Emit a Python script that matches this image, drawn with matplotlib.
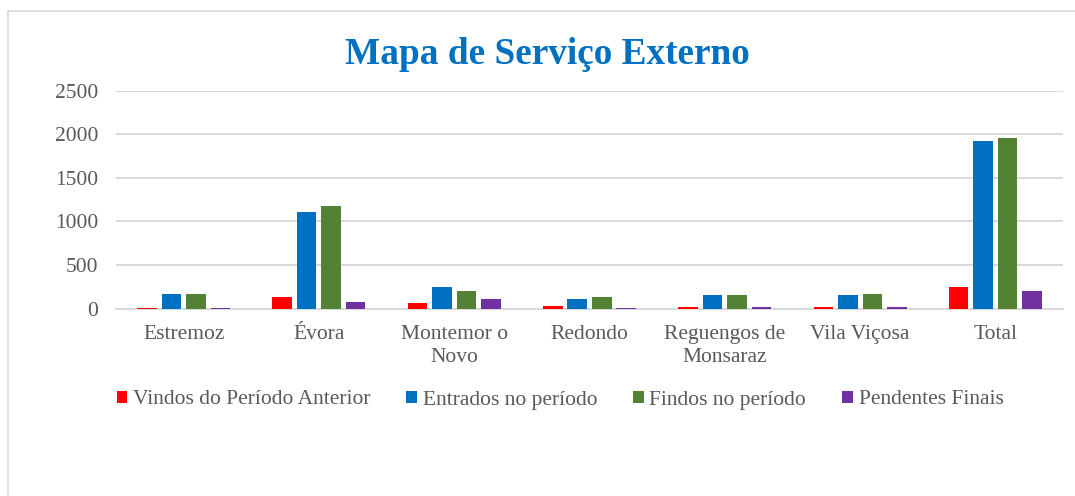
import matplotlib.pyplot as plt
import matplotlib.patches as mpatches
import numpy as np

# dados do gráfico
categorias = ['Estremoz', 'Évora', 'Montemor o\nNovo', 'Redondo',
              'Reguengos de\nMonsaraz', 'Vila Viçosa', 'Total']
vindos = [5, 135, 67, 28, 15, 15, 250]
entrados = [169, 1110, 244, 109, 158, 158, 1920]
findos = [169, 1175, 202, 129, 154, 166, 1955]
pendentes = [5, 74, 109, 5, 20, 15, 204]
series = ['Vindos do Período Anterior', 'Entrados no período',
          'Findos no período', 'Pendentes Finais']
cores = ['#FF0000', '#0070C0', '#548235', '#7030A0']

plt.rcParams['font.family'] = ['Liberation Serif', 'DejaVu Serif']
cinza = '#595959'

fig = plt.figure(figsize=(10.75, 4.96), dpi=100)
# moldura do gráfico
fig.patches.append(mpatches.Rectangle((8/1075, -0.1), 1.2, 1 - 11/496 + 0.1,
                                      transform=fig.transFigure, fill=False,
                                      edgecolor='#D9D9D9', linewidth=1.2))
ax = fig.add_axes([116/1075, 1 - 308.5/496, (1063 - 116)/1075, (308.5 - 91)/496])

x = np.arange(len(categorias))
passo = 0.181
for i, (vals, nome, cor) in enumerate(zip([vindos, entrados, findos, pendentes], series, cores)):
    ax.bar(x + (i - 1.5)*passo, vals, width=passo*0.8, color=cor, label=nome, zorder=3)

ax.set_xlim(-0.5, len(categorias) - 0.5)
ax.set_ylim(0, 2500)
ax.set_yticks(np.arange(0, 2501, 500))
ax.grid(axis='y', color='#D9D9D9', linewidth=1.4, zorder=0)
for s in ['top', 'right', 'left']:
    ax.spines[s].set_visible(False)
ax.spines['bottom'].set_color('#D9D9D9')
ax.spines['bottom'].set_linewidth(1.4)
ax.tick_params(axis='both', length=0, labelsize=15.5, labelcolor=cinza)
ax.tick_params(axis='y', pad=13)
ax.tick_params(axis='x', pad=12)
ax.set_xticks(x)
ax.set_xticklabels(categorias, linespacing=1.3)

fig.text(547/1075, 1 - 54/496, 'Mapa de Serviço Externo', ha='center', va='center',
         fontsize=26.8, fontweight='bold', color='#0070C0')

leg = fig.legend(loc='center', bbox_to_anchor=(560/1075, 1 - 400/496), ncol=4,
                 frameon=False, fontsize=15.5, handlelength=0.5, handleheight=0.5,
                 handletextpad=0.25, columnspacing=1.68, borderaxespad=0)
for t in leg.get_texts():
    t.set_color(cinza)

plt.savefig('out.png', dpi=100)
